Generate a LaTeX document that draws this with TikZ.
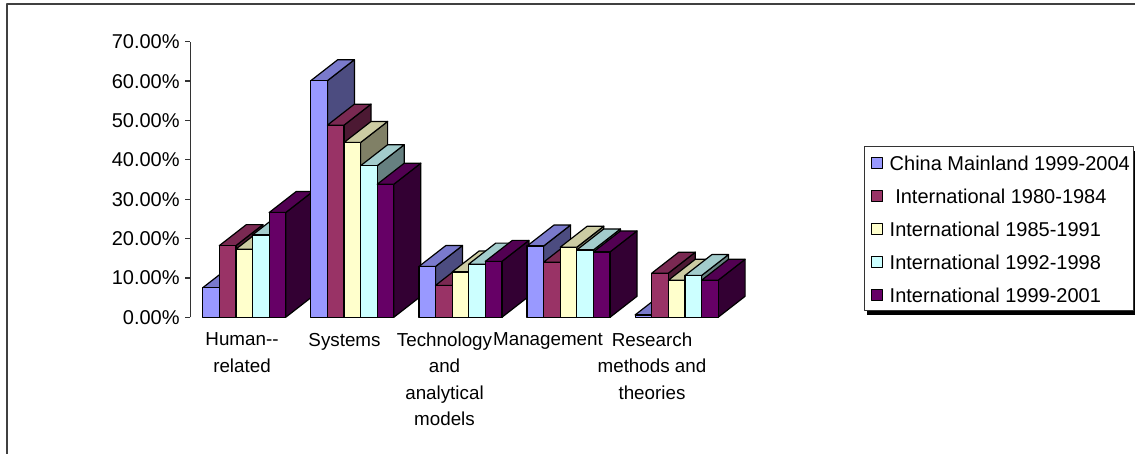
\documentclass[tikz,border=0pt]{standalone}
\usepackage{fontspec}
\setmainfont{Liberation Sans}
\usetikzlibrary{shadows}
\definecolor{ser1}{HTML}{9999FF}
\definecolor{ser2}{HTML}{993366}
\definecolor{ser3}{HTML}{FFFFCC}
\definecolor{ser4}{HTML}{CCFFFF}
\definecolor{ser5}{HTML}{660066}
\begin{document}
\begin{tikzpicture}[x=0.5pt,y=0.5pt, line join=round, font=\fontsize{10}{13.15}\selectfont,
	face/.style={draw=black,line width=0.6pt},
	tick/.style={anchor=base east,inner sep=0pt},
	cat/.style={anchor=north,align=center,inner sep=0pt,font=\fontsize{9.4}{13.15}\selectfont},
	key/.style={anchor=base west,inner sep=0pt},
	swatch/.style={draw=black,line width=0.5pt,minimum size=5.5pt,inner sep=0pt}]
	\useasboundingbox (0,0) rectangle (1135,454);
	\path
	(7,0)coordinate(F1)
	(1135,450)coordinate(F2)
	(190.3,136.7)coordinate(O)
	(190.3,412.3)coordinate(T)
	;
	\draw[line width=1pt,black!75] (F1)|-(F2);
	% value axis
	\draw[line width=0.6pt,black!80] (O)--(T);
	\foreach \k/\lab in {0/0.00,1/10.00,2/20.00,3/30.00,4/40.00,5/50.00,6/60.00,7/70.00} {
		\draw[line width=0.6pt,black!80] (185.3,{136.7+39.37*\k}) -- (190.3,{136.7+39.37*\k});
		\node[tick] (t\k) at (180,{129.7+39.37*\k}) {\lab\%};
	}
	% bars, group by group
	\foreach \vals [count=\i from 0] in {{7.5,18.2,17.3,20.9,26.6},{60.1,48.8,44.4,38.5,33.8},{12.9,8.1,11.5,13.5,14.2},{18.1,14.0,17.8,17.1,16.6},{0.6,11.2,9.4,10.6,9.4}}
	\foreach \v [count=\j] in \vals {
		\pgfmathsetmacro\xa{202.7+108.1*\i+16.6*(\j-1)}
		\pgfmathsetmacro\xb{\xa+16.6}
		\pgfmathsetmacro\yt{136.7+3.937*\v}
		\filldraw[face,fill=ser\j!50!black] (\xb,136.7) -- (\xb,\yt) -- ++(27,21) -- (\xb+27,157.7) -- cycle;
		\filldraw[face,fill=ser\j!80!black] (\xa,\yt) -- (\xb,\yt) -- ++(27,21) -- (\xa+27,\yt+21) -- cycle;
		\filldraw[face,fill=ser\j] (\xa,136.7) rectangle (\xb,\yt);
	}
	% category labels
	\node[cat] (c1) at (242,121.4) {Human-{}-\\related};
	\node[cat] (c2) at (344.5,121.4) {Systems};
	\node[cat] (c3) at (444.5,121.4) {Technology\\and\\analytical\\models};
	\node[cat] (c4) at (548,121.4) {Management};
	\node[cat] (c5) at (652,121.4) {Research\\methods and\\theories};
	% legend
	\node[draw=black!80,fill=white,line width=0.5pt,minimum width=134.5pt,minimum height=82pt,inner sep=0pt,
	drop shadow={shadow xshift=1.6pt,shadow yshift=-2pt,fill=black,opacity=1}] (legend) at (998.5,225) {};
	\foreach \lab [count=\j] in {China Mainland 1999-2004,{\ International 1980-1984},International 1985-1991,International 1992-1998,International 1999-2001} {
		\node[swatch,fill=ser\j] (s\j) at (877,{290.5-33*(\j-1)}) {};
		\node[key] (k\j) at (889.3,{283.5-33*(\j-1)}) {\lab};
	}
\end{tikzpicture}
\end{document}
